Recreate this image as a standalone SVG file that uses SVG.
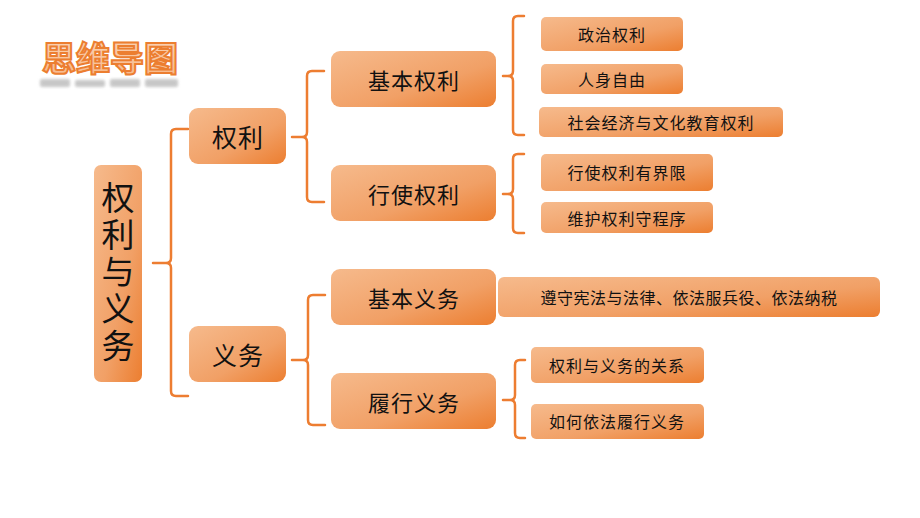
<svg xmlns="http://www.w3.org/2000/svg" width="920" height="518" viewBox="0 0 920 518">
<defs>
<linearGradient id="g" x1="0" y1="0" x2="1" y2="1">
<stop offset="0" stop-color="#F6BA8C"/>
<stop offset="0.6" stop-color="#F1A066"/>
<stop offset="1" stop-color="#EC7E30"/>
</linearGradient>
<linearGradient id="tg" x1="0" y1="0" x2="0" y2="1">
<stop offset="0" stop-color="#FBD9BE"/>
<stop offset="1" stop-color="#F6B585"/>
</linearGradient>
<filter id="blur" x="-10%" y="-80%" width="120%" height="260%"><feGaussianBlur stdDeviation="1.6"/></filter>
<style>
.box{fill:url(#g);}
.t{font-family:"Noto Sans CJK SC","Noto Sans",sans-serif;fill:#111;text-anchor:middle;dominant-baseline:central;}
.big{font-size:25px;letter-spacing:1px;}
.mid{font-size:22px;letter-spacing:1px;}
.sm{font-size:16px;letter-spacing:1px;}
.br{fill:none;stroke:#ED7D31;stroke-width:2.5;stroke-linejoin:round;stroke-linecap:round;}
.refl{fill:#9A9A9A;}
</style>
</defs>
<rect width="920" height="518" fill="#FFFFFF"/>
<g id="title">
<text x="110" y="56" class="t" style="font-size:34px;font-weight:bold;letter-spacing:0px;fill:url(#tg);stroke:#EC7E30;stroke-width:2">思维导图</text>
<g opacity="0.55" filter="url(#blur)">
<rect class="refl" x="40" y="79" width="30" height="8" rx="2"/>
<rect class="refl" x="75" y="80" width="30" height="7" rx="2"/>
<rect class="refl" x="110" y="79" width="30" height="8" rx="2"/>
<rect class="refl" x="145" y="79" width="33" height="8" rx="2"/>
</g>
</g>
<g id="connectors">
<path class="br" d="M188,129 H176 Q171,129 171,134 V258 Q171,263 166,263 H153 M166,263 Q171,263 171,268 V391 Q171,396 176,396 H188"/>
<path class="br" d="M324,71 H312 Q307,71 307,76 V132 Q307,137 302,137 H292 M302,137 Q307,137 307,142 V197 Q307,202 312,202 H324"/>
<path class="br" d="M325,295 H313 Q308,295 308,300 V355 Q308,360 303,360 H292 M303,360 Q308,360 308,365 V420 Q308,425 313,425 H325"/>
<path class="br" d="M524,16 H518 Q513,16 513,21 V71 Q513,76 508,76 H503 M508,76 Q513,76 513,81 V130 Q513,135 518,135 H524"/>
<path class="br" d="M524,154 H518 Q513,154 513,159 V189 Q513,194 508,194 H503 M508,194 Q513,194 513,199 V228 Q513,233 518,233 H524"/>
<path class="br" d="M525,360 H520 Q515,360 515,365 V395 Q515,400 510,400 H503 M510,400 Q515,400 515,405 V433 Q515,438 520,438 H525"/>
</g>
<g id="root"><rect class="box" x="94" y="165" width="48" height="217" rx="7"/>
<text class="t" style="font-size:33px;writing-mode:vertical-rl;letter-spacing:4px" x="118" y="273">权利与义务</text></g>
<g id="quanli"><rect class="box" x="189" y="108" width="97" height="56" rx="9"/><text class="t big" x="238" y="136">权利</text></g>
<g id="yiwu"><rect class="box" x="189" y="326" width="97" height="56" rx="9"/><text class="t big" x="238" y="354">义务</text></g>
<g id="jibenquanli"><rect class="box" x="331" y="51" width="165" height="56" rx="9"/><text class="t mid" x="414" y="79">基本权利</text></g>
<g id="xingshiquanli"><rect class="box" x="331" y="165" width="165" height="56" rx="9"/><text class="t mid" x="414" y="193">行使权利</text></g>
<g id="jibenyiwu"><rect class="box" x="331" y="269" width="165" height="56" rx="9"/><text class="t mid" x="414" y="297">基本义务</text></g>
<g id="lvxingyiwu"><rect class="box" x="331" y="373" width="165" height="56" rx="9"/><text class="t mid" x="414" y="401">履行义务</text></g>
<g id="zhengzhi"><rect class="box" x="541" y="17" width="142" height="34" rx="5"/><text class="t sm" x="612" y="34">政治权利</text></g>
<g id="renshen"><rect class="box" x="541" y="64" width="142" height="30" rx="5"/><text class="t sm" x="612" y="79">人身自由</text></g>
<g id="shehui"><rect class="box" x="539" y="107" width="244" height="30" rx="5"/><text class="t sm" x="661" y="122">社会经济与文化教育权利</text></g>
<g id="youjiexian"><rect class="box" x="541" y="154" width="172" height="37" rx="5"/><text class="t sm" x="627" y="172">行使权利有界限</text></g>
<g id="chengxu"><rect class="box" x="541" y="202" width="172" height="31" rx="5"/><text class="t sm" x="627" y="218">维护权利守程序</text></g>
<g id="zunshou"><rect class="box" x="498" y="277" width="382" height="40" rx="6"/><text class="t sm" x="689" y="297" style="letter-spacing:0.5px">遵守宪法与法律、依法服兵役、依法纳税</text></g>
<g id="guanxi"><rect class="box" x="531" y="347" width="173" height="36" rx="5"/><text class="t sm" x="617" y="365">权利与义务的关系</text></g>
<g id="ruhe"><rect class="box" x="531" y="404" width="173" height="35" rx="5"/><text class="t sm" x="617" y="421">如何依法履行义务</text></g>
</svg>
